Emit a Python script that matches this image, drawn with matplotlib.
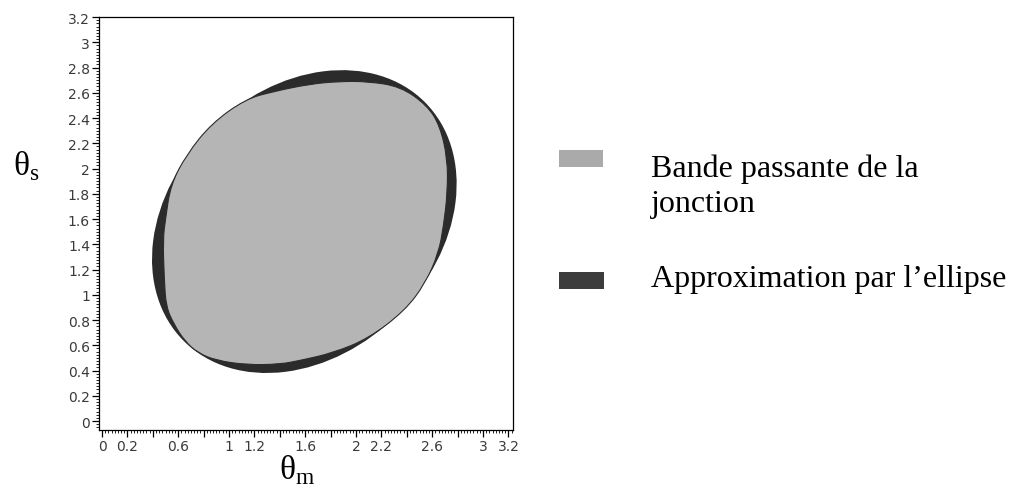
import matplotlib
matplotlib.use("Agg")
import matplotlib.pyplot as plt
from matplotlib.patches import Ellipse, PathPatch, Rectangle
from matplotlib.path import Path
from matplotlib.ticker import MultipleLocator

# pass band boundary (theta_m, theta_s), clockwise from top
band_x = [1.87, 2.09, 2.35, 2.56, 2.66, 2.72, 2.72, 2.69, 2.65, 2.545, 2.385, 2.10,
          1.82, 1.56, 1.40, 1.14, 0.90, 0.755, 0.65, 0.565, 0.505, 0.49, 0.48, 0.50,
          0.54, 0.665, 0.86, 1.13, 1.35, 1.64]
band_y = [2.69, 2.69, 2.65, 2.50, 2.34, 2.08, 1.81, 1.55, 1.33, 1.09, 0.875, 0.655,
          0.54, 0.48, 0.45, 0.445, 0.48, 0.54, 0.635, 0.77, 0.905, 1.12, 1.44, 1.60,
          1.87, 2.11, 2.355, 2.55, 2.61, 2.67]

# approximating ellipse: centre, full axes, tilt (deg)
ell_center = (1.593, 1.58)
ell_width = 2.68
ell_height = 2.08
ell_angle = 45

x_ticks = [0, 0.2, 0.4, 0.6, 0.8, 1, 1.2, 1.4, 1.6, 1.8, 2, 2.2, 2.4, 2.6, 2.8, 3, 3.2]
x_tick_labels = ['0', '0.2', '', '0.6', '', '1', '1.2', '', '1.6', '', '2', '2.2', '',
                 '2.6', '', '3', '3.2']
y_ticks = x_ticks
y_tick_labels = ['0', '0.2', '0.4', '0.6', '0.8', '1', '1.2', '1.4', '1.6', '1.8', '2',
                 '2.2', '2.4', '2.6', '2.8', '3', '3.2']

legend_labels = ['Bande passante de la', 'jonction', 'Approximation par l\u2019ellipse']

plt.rcParams['mathtext.fontset'] = 'custom'
plt.rcParams['mathtext.rm'] = 'Liberation Serif'

fig = plt.figure(figsize=(10.13, 4.85), dpi=100)
ax = fig.add_axes([0.0977, 0.1113, 0.4087, 0.8515])

ell = Ellipse(ell_center, ell_width, ell_height, angle=ell_angle,
              facecolor='#2b2b2b', edgecolor='none')
ax.add_patch(ell)

# smooth closed outline: read points act as quadratic bezier control points
pts = list(zip(band_x, band_y))
n = len(pts)
mids = [((pts[i][0] + pts[(i + 1) % n][0]) / 2, (pts[i][1] + pts[(i + 1) % n][1]) / 2)
        for i in range(n)]
verts = [mids[-1]]
codes = [Path.MOVETO]
for i in range(n):
    verts += [pts[i], mids[i]]
    codes += [Path.CURVE3, Path.CURVE3]
band = PathPatch(Path(verts, codes), facecolor='#b5b5b5', edgecolor='#2b2b2b',
                 linewidth=0.8)
ax.add_patch(band)

ax.set_xlim(-0.024, 3.236)
ax.set_ylim(-0.071, 3.2)

ax.set_xticks(x_ticks)
ax.set_xticklabels(x_tick_labels)
ax.set_yticks(y_ticks)
ax.set_yticklabels(y_tick_labels)
ax.xaxis.set_minor_locator(MultipleLocator(0.025))
ax.yaxis.set_minor_locator(MultipleLocator(0.025))
ax.tick_params(which='major', length=5, width=0.9, labelsize=10,
               labelcolor='#3a3a3a', pad=1.5)
ax.tick_params(which='minor', length=2, width=0.6)
for s in ax.spines.values():
    s.set_linewidth(0.9)

# axis labels
fig.text(0.293, 0.012, r'$\mathrm{\theta}_{\mathrm{m}}$', fontsize=24,
         ha='center', va='baseline')
fig.text(0.0128, 0.639, r'$\mathrm{\theta}_{\mathrm{s}}$', fontsize=24,
         ha='left', va='baseline')

# legend
fig.add_artist(Rectangle((0.5518, 0.6536), 0.0434, 0.035, transform=fig.transFigure,
                         facecolor='#aaaaaa', edgecolor='none'))
fig.add_artist(Rectangle((0.5518, 0.402), 0.0444, 0.035, transform=fig.transFigure,
                         facecolor='#3c3c3c', edgecolor='none'))
fig.text(0.6426, 0.635, legend_labels[0], fontsize=23, family='Liberation Serif',
         va='baseline')
fig.text(0.6426, 0.563, legend_labels[1], fontsize=23, family='Liberation Serif',
         va='baseline')
fig.text(0.6426, 0.408, legend_labels[2], fontsize=23, family='Liberation Serif',
         va='baseline')

fig.savefig('out.png', dpi=100)
